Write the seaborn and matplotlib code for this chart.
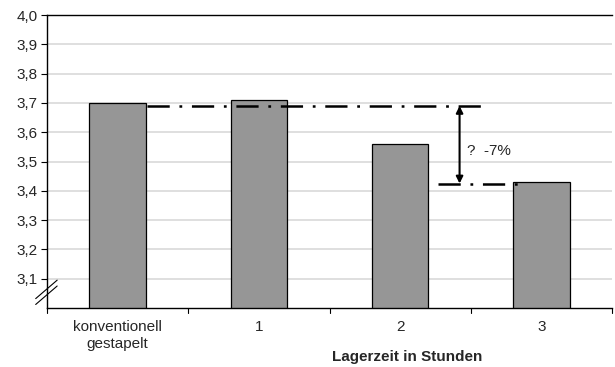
import matplotlib
matplotlib.use("Agg")
import matplotlib.pyplot as plt
import seaborn as sns
import pandas as pd

# data
categories = ["konventionell\ngestapelt", "1", "2", "3"]
values = [3.70, 3.71, 3.56, 3.43]
y_ticks = [3.1, 3.2, 3.3, 3.4, 3.5, 3.6, 3.7, 3.8, 3.9, 4.0]
ref_upper = 3.69
ref_lower = 3.425
change_label = "?  -7%"

sns.set_theme(style="white")
plt.rcParams['font.family'] = ['Liberation Sans', 'DejaVu Sans']
plt.rcParams['lines.scale_dashes'] = False

df = pd.DataFrame({"Lagerzeit": categories, "Wert": values})

fig = plt.figure(figsize=(6.15, 3.67), dpi=100)
ax = fig.add_axes([0.0764, 0.1608, 0.919, 0.798])

sns.barplot(data=df, x="Lagerzeit", y="Wert", order=categories, color="#969696",
            saturation=1, width=0.4, edgecolor="black", linewidth=0.9, ax=ax, zorder=2)

fs = 11
ax.set_ylim(3.0, 4.0)
ax.set_xlim(-0.5, 3.5)
ax.set_yticks(y_ticks)
ax.set_yticklabels([f"{v:.1f}".replace(".", ",") for v in y_ticks], fontsize=fs)
ax.tick_params(axis="y", length=4, width=0.8, color="black", left=True, pad=3)
ax.tick_params(axis="x", length=0, labelsize=fs, pad=9)
for xb in [-0.5, 0.5, 1.5, 2.5, 3.5]:
    ax.plot([xb, xb], [0, -0.018], transform=ax.get_xaxis_transform(),
            color="black", lw=0.8, clip_on=False)

for v in y_ticks[:-1]:
    ax.axhline(v, color="#d9d9d9", lw=1.2, zorder=0)

for s in ["left", "bottom", "top"]:
    ax.spines[s].set_color("black")
    ax.spines[s].set_linewidth(1.0)
ax.spines["right"].set_visible(False)

ax.set_ylabel("")
ax.set_xlabel("Lagerzeit in Stunden", fontsize=fs, fontweight="bold")
ax.xaxis.set_label_coords(0.637, -0.145)

# reference lines and change arrow
dash = (0, (16, 7, 2, 7))
ax.plot([0.21, 2.6], [ref_upper, ref_upper], color="black", lw=1.8, linestyle=dash, zorder=3)
ax.plot([2.27, 2.83], [ref_lower, ref_lower], color="black", lw=1.8, linestyle=dash, zorder=3)
ax.annotate("", xy=(2.42, ref_upper), xytext=(2.42, ref_lower),
            arrowprops=dict(arrowstyle="<|-|>", color="black", lw=1.5,
                            mutation_scale=10, shrinkA=0, shrinkB=0), zorder=4)
ax.text(2.47, 3.535, change_label, fontsize=fs, va="center", ha="left")

# axis break marks
for dy in [0.0, 0.02]:
    ax.plot([-0.02, 0.018], [0.012 + dy, 0.075 + dy], transform=ax.transAxes,
            color="black", lw=0.8, clip_on=False)

fig.savefig("out.png", dpi=100)
